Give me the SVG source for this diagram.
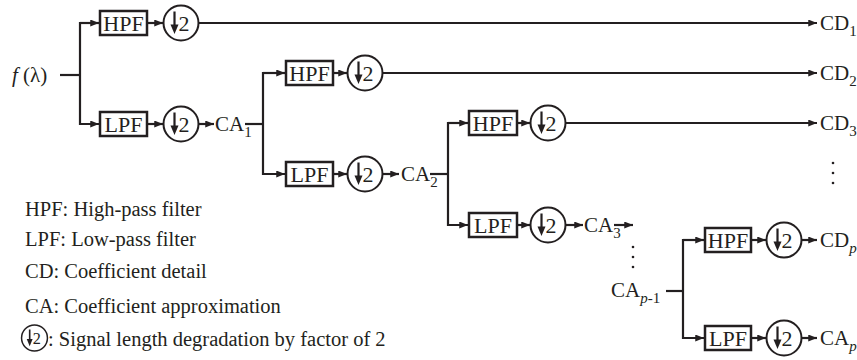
<svg xmlns="http://www.w3.org/2000/svg" xmlns:xlink="http://www.w3.org/1999/xlink" width="857" height="360" viewBox="0 0 857 360">
<style>
.ln{stroke:#231f20;stroke-width:2.2;fill:none}
.bx{fill:#fff;stroke:#231f20;stroke-width:2.5}
.cr{fill:#fff;stroke:#231f20;stroke-width:2}
text{font-family:"Liberation Serif","Times New Roman",serif;fill:#231f20}
.lb{font-size:21px}
.bt{font-size:22px;text-anchor:middle}
.lg{font-size:20.5px}
.dt{fill:#231f20}
</style>
<defs>
<marker id="ah" viewBox="0 0 10 8" refX="10" refY="4" markerWidth="9" markerHeight="7" markerUnits="userSpaceOnUse" orient="auto"><path d="M0,0 L10,4 L0,8 z" fill="#231f20"/></marker>
<g id="ds">
<circle r="17.5" class="cr"/>
<line x1="-6.5" y1="-11.5" x2="-6.5" y2="3" stroke="#231f20" stroke-width="2.2"/>
<path d="M-10.5,1.5 L-6.5,11 L-2.5,1.5 z" fill="#231f20"/>
<text x="-2.5" y="7.5" font-size="22px">2</text>
</g>
</defs>

<g id="connectors">
<line class="ln" x1="60" y1="75" x2="80" y2="75"/>
<polyline class="ln" points="99,23 80,23 80,124 99,124" marker-end="url(#ah)"/>
<line class="ln" x1="80" y1="23" x2="99" y2="23" marker-end="url(#ah)"/>
<line class="ln" x1="147" y1="23" x2="163" y2="23" marker-end="url(#ah)"/>
<line class="ln" x1="198" y1="23" x2="817" y2="23" marker-end="url(#ah)"/>
<line class="ln" x1="147" y1="124" x2="163" y2="124" marker-end="url(#ah)"/>
<line class="ln" x1="198" y1="124" x2="214" y2="124" marker-end="url(#ah)"/>
<line class="ln" x1="245" y1="124" x2="263" y2="124"/>
<polyline class="ln" points="285,73 263,73 263,174 285,174" marker-end="url(#ah)"/>
<line class="ln" x1="263" y1="73" x2="285" y2="73" marker-end="url(#ah)"/>
<line class="ln" x1="332" y1="73" x2="347" y2="73" marker-end="url(#ah)"/>
<line class="ln" x1="382" y1="73" x2="817" y2="73" marker-end="url(#ah)"/>
<line class="ln" x1="332" y1="174" x2="347" y2="174" marker-end="url(#ah)"/>
<line class="ln" x1="382" y1="174" x2="399" y2="174" marker-end="url(#ah)"/>
<line class="ln" x1="430" y1="174" x2="448" y2="174"/>
<polyline class="ln" points="468,123 448,123 448,225 468,225" marker-end="url(#ah)"/>
<line class="ln" x1="448" y1="123" x2="468" y2="123" marker-end="url(#ah)"/>
<line class="ln" x1="517" y1="123" x2="530" y2="123" marker-end="url(#ah)"/>
<line class="ln" x1="565" y1="123" x2="817" y2="123" marker-end="url(#ah)"/>
<line class="ln" x1="517" y1="225" x2="530" y2="225" marker-end="url(#ah)"/>
<line class="ln" x1="565" y1="225" x2="583" y2="225" marker-end="url(#ah)"/>
<line class="ln" x1="614" y1="225" x2="633" y2="225" marker-end="url(#ah)"/>
<line class="ln" x1="666" y1="291" x2="683" y2="291"/>
<polyline class="ln" points="704,240 683,240 683,338 704,338" marker-end="url(#ah)"/>
<line class="ln" x1="683" y1="240" x2="704" y2="240" marker-end="url(#ah)"/>
<line class="ln" x1="751" y1="240" x2="766" y2="240" marker-end="url(#ah)"/>
<line class="ln" x1="801" y1="240" x2="817" y2="240" marker-end="url(#ah)"/>
<line class="ln" x1="751" y1="338" x2="766" y2="338" marker-end="url(#ah)"/>
<line class="ln" x1="801" y1="338" x2="817" y2="338" marker-end="url(#ah)"/>
</g>

<g id="input"><text x="12" y="82" class="lb"><tspan font-style="italic">f</tspan> (λ)</text></g>

<g id="hpf1"><rect class="bx" x="100" y="11" width="47" height="24"/><text class="bt" x="123.5" y="30.5">HPF</text></g>
<g id="ds1h"><use xlink:href="#ds" x="181" y="23"/></g>
<g id="lpf1"><rect class="bx" x="100" y="112" width="47" height="24"/><text class="bt" x="123.5" y="131.5">LPF</text></g>
<g id="ds1l"><use xlink:href="#ds" x="181" y="124"/></g>
<g id="ca1"><text x="215" y="131" class="lb">CA<tspan dy="6" font-size="15">1</tspan></text></g>

<g id="hpf2"><rect class="bx" x="286" y="61" width="47" height="24"/><text class="bt" x="309.5" y="80.5">HPF</text></g>
<g id="ds2h"><use xlink:href="#ds" x="365" y="73"/></g>
<g id="lpf2"><rect class="bx" x="286" y="162" width="47" height="24"/><text class="bt" x="309.5" y="181.5">LPF</text></g>
<g id="ds2l"><use xlink:href="#ds" x="365" y="174"/></g>
<g id="ca2"><text x="401" y="181" class="lb">CA<tspan dy="6" font-size="15">2</tspan></text></g>

<g id="hpf3"><rect class="bx" x="469" y="111" width="48" height="24"/><text class="bt" x="493" y="130.5">HPF</text></g>
<g id="ds3h"><use xlink:href="#ds" x="548" y="123"/></g>
<g id="lpf3"><rect class="bx" x="469" y="213" width="48" height="24"/><text class="bt" x="493" y="232.5">LPF</text></g>
<g id="ds3l"><use xlink:href="#ds" x="548" y="225"/></g>
<g id="ca3"><text x="584" y="232" class="lb">CA<tspan dy="6" font-size="15">3</tspan></text></g>

<g id="dots1"><circle class="dt" cx="633" cy="247" r="1.3"/><circle class="dt" cx="633" cy="257" r="1.3"/><circle class="dt" cx="633" cy="267" r="1.3"/></g>
<g id="dots2"><circle class="dt" cx="833" cy="163" r="1.3"/><circle class="dt" cx="833" cy="173" r="1.3"/><circle class="dt" cx="833" cy="183" r="1.3"/></g>

<g id="cap1"><text x="611" y="297" class="lb">CA<tspan dy="6" font-size="15"><tspan font-style="italic">p</tspan>-1</tspan></text></g>
<g id="hpfp"><rect class="bx" x="705" y="228" width="46" height="24"/><text class="bt" x="728" y="247.5">HPF</text></g>
<g id="dsph"><use xlink:href="#ds" x="784" y="240"/></g>
<g id="lpfp"><rect class="bx" x="705" y="326" width="46" height="24"/><text class="bt" x="728" y="345.5">LPF</text></g>
<g id="dspl"><use xlink:href="#ds" x="784" y="338"/></g>

<g id="cd1"><text x="820" y="30" class="lb">CD<tspan dy="6" font-size="15">1</tspan></text></g>
<g id="cd2"><text x="820" y="80" class="lb">CD<tspan dy="6" font-size="15">2</tspan></text></g>
<g id="cd3"><text x="820" y="130" class="lb">CD<tspan dy="6" font-size="15">3</tspan></text></g>
<g id="cdp"><text x="820" y="247" class="lb">CD<tspan dy="6" font-size="15" font-style="italic">p</tspan></text></g>
<g id="cap"><text x="820" y="345" class="lb">CA<tspan dy="6" font-size="15" font-style="italic">p</tspan></text></g>

<g id="legend">
<text x="25" y="216" class="lg">HPF: High-pass filter</text>
<text x="25" y="246" class="lg">LPF: Low-pass filter</text>
<text x="25" y="278" class="lg">CD: Coefficient detail</text>
<text x="25" y="313" class="lg">CA: Coefficient approximation</text>
<use xlink:href="#ds" transform="translate(34.5,338) scale(0.74)"/>
<text x="48" y="346" class="lg">: Signal length degradation by factor of 2</text>
</g>
</svg>
